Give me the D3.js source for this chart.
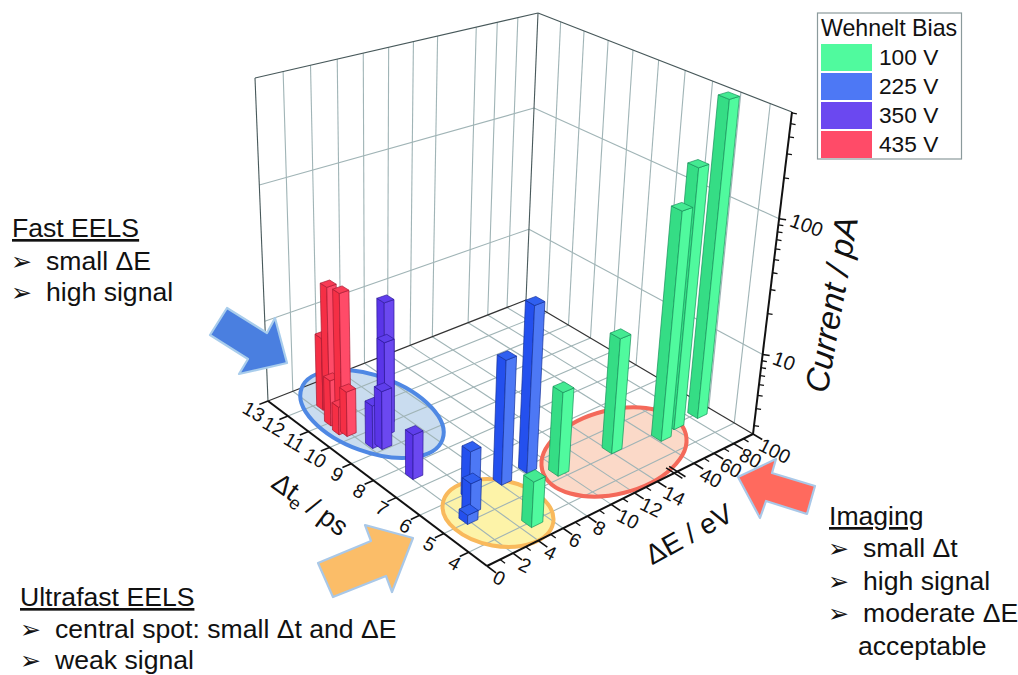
<!DOCTYPE html><html><head><meta charset="utf-8"><script src="https://cdn.jsdelivr.net/npm/d3@7"></script>
<style>html,body{margin:0;background:#fff}text{font-family:"Liberation Sans",Arial,sans-serif;fill:#111}</style></head><body><svg id="c" width="1018" height="675"></svg>
<script>
// ---- data ----
const biasLabels=["100 V","225 V","350 V","435 V"];
const biasColors=["#50fa9e","#4d78f5","#6b48f0","#ff4b68"];
const biasLeftFace=["#35dd85","#2450ee","#5a35e8","#f52f45"];
const biasTop=["#44ea92","#3060f0","#5f3eec","#f83c55"];
const biasEdge=["#17905a","#14309a","#2e1a9a","#a81a30"];
const biasHalf=[.02,.018,.017,.016];
const energy100=[88.1,64.2,46.3,16.6,9.9,5.0];
const time100=[5.0,5.0,4.8,5.2,5.3,4.0];
const current100=[612,219,123,17.4,10.1,5.3];
const energy225=[8.5,6.4,3.8,2.9,2.1];
const time225=[5.9,5.9,5.9,5.4,5.1];
const current225=[39.6,19.3,5.6,4.2,3.0];
const energy350=[2.4,2.9,2.5,4.7,4.0];
const time350=[7.55,9.2,9.4,10.1,9.7];
const current350=[5.3,6.7,5.2,20.2,12.1];
const energy435=[2.7,2.35,2.6,1.9,2.0,1.7];
const time435=[11.55,10.75,11.8,11.0,10.3,10.5];
const current435=[21.6,24.1,8.7,5.5,5.4,4.1];
const energyTicks=[0,2,4,6,8,10,12,14,40,60,80,100];
const energyMinor=[1,3,5,7,9,11,13,50,70,90];
const timeTicks=[4,5,6,7,8,9,10,11,12,13];
const currentMajor=[10,100];
const currentMinor=[3,4,5,6,7,8,9,20,30,40,50,60,70,80,90,200,300,400,500,600];
// ---- frame geometry ----
const floorQuad=[[487,566],[753,434],[526,300],[268,401]];
const topQuad=[[498,208],[792,112],[538,13],[255,78]];
function quadMap(p){const [x0,y0]=p[0],[x1,y1]=p[1],[x2,y2]=p[2],[x3,y3]=p[3];
 const sx=x0-x1+x2-x3,sy=y0-y1+y2-y3,dx1=x1-x2,dx2=x3-x2,dy1=y1-y2,dy2=y3-y2,det=dx1*dy2-dx2*dy1;
 const g=(sx*dy2-dx2*sy)/det,h=(dx1*sy-sx*dy1)/det;
 const a=x1-x0+g*x1,b=x3-x0+h*x3,d=y1-y0+g*y1,e=y3-y0+h*y3;
 return (u,v)=>{const w=g*u+h*v+1;return [(a*u+b*v+x0)/w,(d*u+e*v+y0)/w]}}
const H0=quadMap(floorQuad),H1=quadMap(topQuad);
const sE=d3.scaleLinear().domain([0,14,40,100]).range([0,.6125,.757,1]);
const sT=d3.scaleLinear().domain([3.28,13]).range([0,1]);
const sI=d3.scaleLog().domain([2.6,610]).range([0,1]);
const P3=(u,v,w)=>{const a=H0(u,v),b=H1(u,v);return [a[0]+(b[0]-a[0])*w,a[1]+(b[1]-a[1])*w]};
const svg=d3.select("#c");
const line=(g,a,b,col,wd)=>g.append("line").attr("x1",a[0]).attr("y1",a[1]).attr("x2",b[0]).attr("y2",b[1]).attr("stroke",col).attr("stroke-width",wd);
const poly=(g,pts,fill,edge,wd)=>g.append("polygon").attr("points",pts.map(p=>p.map(n=>n.toFixed(1)).join(",")).join(" ")).attr("fill",fill).attr("stroke",edge).attr("stroke-width",wd).attr("stroke-linejoin","round");
const highlights=[[372,414,75,38,20,"#c9dcef","#4f88e4"],[498,513,56,33,10,"#fdf3a8","#f9b95c"],[614,452,74,42,-14,"#fbd9c8","#f4695a"]];
const ell=(cx,cy,rx,ry,rot,fill,st)=>svg.append("ellipse").attr("cx",cx).attr("cy",cy).attr("rx",rx).attr("ry",ry).attr("transform",`rotate(${rot} ${cx} ${cy})`).attr("fill",fill).attr("stroke",st).attr("stroke-width",4);
highlights.forEach(([a,b,c,d,e,f])=>ell(a,b,c,d,e,f,"none"));
// grid
const gGrid=svg.append("g");
const gridCol="#a0b4b6";
energyTicks.filter(e=>e>0&&e<100).forEach(e=>{const u=sE(e);
 line(gGrid,H0(u,0),H0(u,1),gridCol,1.1);line(gGrid,P3(u,1,0),P3(u,1,1),gridCol,1.1)});
timeTicks.filter(t=>t<13).forEach(t=>{const v=sT(t);
 line(gGrid,H0(0,v),H0(1,v),gridCol,1.1);line(gGrid,P3(1,v,0),P3(1,v,1),gridCol,1.1)});
currentMajor.forEach(c=>{const w=sI(c);
 line(gGrid,P3(0,1,w),P3(1,1,w),gridCol,1.1);line(gGrid,P3(1,1,w),P3(1,0,w),gridCol,1.1)});
// frame
const frameCol="#47585a";
line(gGrid,P3(0,1,0),P3(0,1,1),frameCol,1.1);line(gGrid,P3(1,1,0),P3(1,1,1),frameCol,1.1);
line(gGrid,P3(0,1,1),P3(1,1,1),frameCol,1.1);line(gGrid,P3(1,1,1),P3(1,0,1),frameCol,1.1);
line(gGrid,P3(0,1,0),P3(1,1,0),"#333",1.2);line(gGrid,P3(1,1,0),P3(1,0,0),"#333",1.2);
highlights.forEach(([a,b,c,d,e,,s])=>ell(a,b,c,d,e,"none",s));
// axes
const gAx=svg.append("g");
line(gAx,H0(0,0),H0(1,0),"#111",2);line(gAx,H0(0,0),H0(0,1),"#111",2);
energyTicks.forEach(e=>{const u=sE(e),a=H0(u,0),b=H0(u,-.036);line(gAx,a,b,"#111",1.6);
 gAx.append("text").attr("transform",`translate(${a[0]+6.5},${a[1]+11}) rotate(27)`).attr("font-size",19.5).attr("dominant-baseline","middle").text(e)});
energyMinor.forEach(e=>{const u=sE(e);line(gAx,H0(u,0),H0(u,-.02),"#111",1.3)});
// axis break marks
const bk=sE(27);[-.006,.006].forEach(o=>{line(gAx,H0(bk+o,-.032),H0(bk+o,.032),"#111",1.5)});
timeTicks.forEach(t=>{const v=sT(t),a=H0(0,v),b=H0(-.03,v);line(gAx,a,b,"#111",1.6);
 gAx.append("text").attr("transform",`translate(${a[0]-15},${a[1]+12}) rotate(30)`).attr("font-size",19.5).attr("text-anchor","middle").attr("dominant-baseline","middle").text(t)});
line(gAx,P3(1,0,0),P3(1,0,1),"#111",2);
currentMajor.forEach(c=>{const a=P3(1,0,sI(c));line(gAx,a,[a[0]+7,a[1]+1],"#111",1.6);
 gAx.append("text").attr("transform",`translate(${a[0]+27-(c==10?6:0)},${a[1]+8}) rotate(20)`).attr("font-size",20).attr("text-anchor","middle").attr("dominant-baseline","middle").text(c)});
currentMinor.forEach(c=>{const a=P3(1,0,sI(c));line(gAx,a,[a[0]+5,a[1]+.8],"#111",1.3)});
// bars, drawn back to front
const series=[[energy100,time100,current100],[energy225,time225,current225],[energy350,time350,current350],[energy435,time435,current435]];
const bars=[];series.forEach(([es,ts,cs],k)=>es.forEach((e,i)=>bars.push({k,u:sE(e),v:sT(ts[i]),w:sI(cs[i])})));
bars.sort((a,b)=>(b.u+b.v)-(a.u+a.v));
const gB=svg.append("g");
bars.forEach(b=>{const h=biasHalf[b.k],u0=b.u-h,u1=b.u+h,v0=b.v-h,v1=b.v+h,e=biasEdge[b.k];
 poly(gB,[P3(u0,v0,0),P3(u0,v1,0),P3(u0,v1,b.w),P3(u0,v0,b.w)],biasLeftFace[b.k],e,.7);
 poly(gB,[P3(u0,v0,0),P3(u1,v0,0),P3(u1,v0,b.w),P3(u0,v0,b.w)],biasColors[b.k],e,.7);
 poly(gB,[P3(u0,v0,b.w),P3(u1,v0,b.w),P3(u1,v1,b.w),P3(u0,v1,b.w)],biasTop[b.k],e,.7);});
// axis titles
svg.append("text").attr("transform","translate(690,536) rotate(-29)").attr("font-size",28).attr("text-anchor","middle").attr("dominant-baseline","middle").text("ΔE / eV");
const tt=svg.append("text").attr("transform","translate(309,506) rotate(36)").attr("font-size",27).attr("text-anchor","middle").attr("dominant-baseline","middle");
tt.append("tspan").text("Δt");tt.append("tspan").attr("dy",7).attr("font-size",18).text("e");tt.append("tspan").attr("dy",-7).text(" / ps");
svg.append("text").attr("transform","translate(834,305) rotate(-80)").attr("font-size",33).attr("font-style","italic").attr("text-anchor","middle").attr("dominant-baseline","middle").text("Current / pA");
// legend
const lg=svg.append("g");
lg.append("rect").attr("x",817.5).attr("y",13).attr("width",144).attr("height",146).attr("fill","#fff").attr("stroke","#8b9a9c").attr("stroke-width",1.2);
lg.append("text").attr("x",821).attr("y",36).attr("font-size",23.2).text("Wehnelt Bias");
biasLabels.forEach((l,i)=>{const y=44+i*29;
 lg.append("rect").attr("x",821).attr("y",y).attr("width",51).attr("height",27).attr("fill",biasColors[i]);
 lg.append("text").attr("x",879).attr("y",y+21).attr("font-size",22.7).text(l)});
// annotation arrows
const arrows=[[[[227,308],[210,335],[248,359],[239,374],[287,363],[275,318],[267,333]],"#4a7fe0","#a9cdec"],
 [[[318,563],[333,597],[386,576],[392,592],[413,538],[365,525],[371,541]],"#fbbd68","#a9c8e8"],
 [[[738,477],[776,459],[772,473],[815,486],[807,514],[766,501],[760,518]],"#ff6a5e","#a9c8e8"]];
arrows.forEach(([p,f,s])=>poly(svg,p,f,s,2.2));
// annotation text
const notes=[[12,237,"Fast EELS",1],[46,270,"small ΔE"],[46,301,"high signal"],
 [20,606,"Ultrafast EELS",1],[55,638,"central spot: small Δt and ΔE"],[55,669,"weak signal"],
 [829,525,"Imaging",1],[863,557,"small Δt"],[863,590,"high signal"],[863,622,"moderate ΔE"],[858,655,"acceptable",2]];
notes.forEach(([x,y,t,f])=>{svg.append("text").attr("x",x).attr("y",y).attr("font-size",26.6).attr("text-decoration",f===1?"underline":null).text(t);
 if(!f) svg.append("text").attr("x",x-35).attr("y",y).attr("font-size",25).style("font-family","DejaVu Sans").text("➢");});
</script></body></html>
